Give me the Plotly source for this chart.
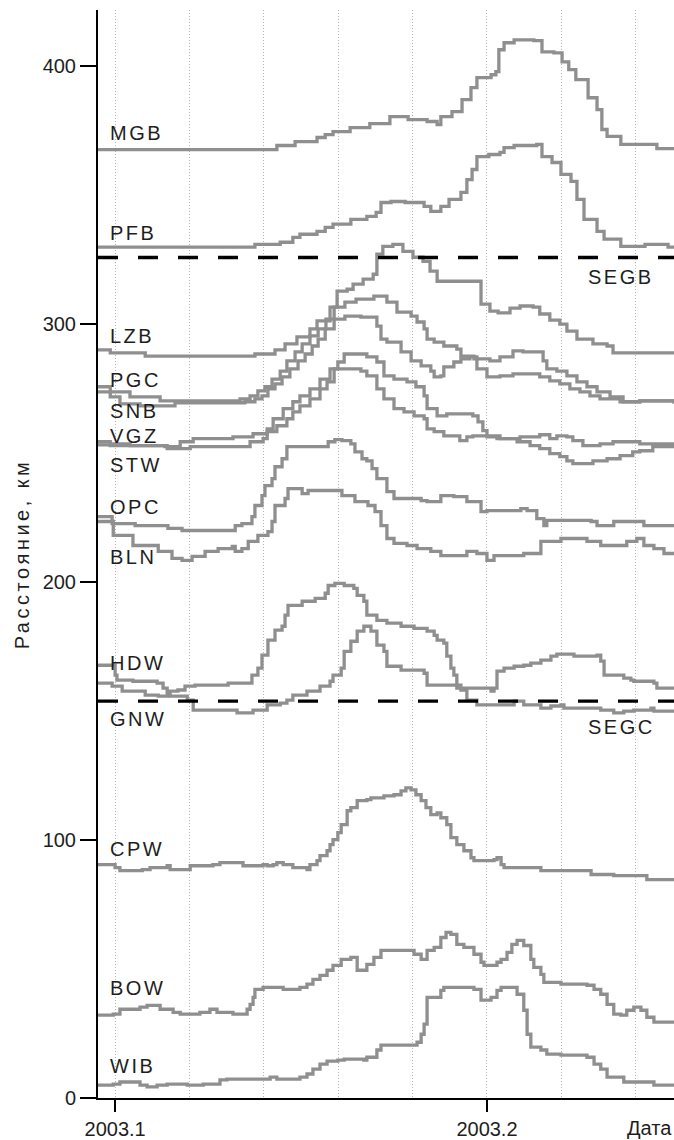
import plotly.graph_objects as go

# ---- station distance time series (decimal year, km) ----
mgb_t = [2003.0954, 2003.1435, 2003.1484, 2003.1543, 2003.1565, 2003.1586, 2003.1632, 2003.1685, 2003.1739, 2003.1788,
         2003.1839, 2003.1866, 2003.1876, 2003.1906, 2003.1933, 2003.1957, 2003.1973, 2003.2011, 2003.2024, 2003.2032,
         2003.2046, 2003.2073, 2003.2126, 2003.2148, 2003.2180, 2003.2202, 2003.2220, 2003.2239, 2003.2272, 2003.2296,
         2003.2309, 2003.2323, 2003.2360, 2003.2457, 2003.2503]
mgb_d = [367.5, 369.1, 370.6, 372.2, 373.3, 374.5, 376.0, 377.6, 380.3, 379.1,
         378.4, 377.2, 380.3, 382.2, 386.9, 391.5, 395.4, 396.5, 397.7, 406.2,
         408.9, 410.0, 409.7, 405.4, 405.0, 401.5, 398.5, 394.6, 387.6, 383.0,
         375.3, 372.6, 369.5, 367.9, 367.9]

pfb_t = [2003.0954, 2003.1376, 2003.1444, 2003.1478, 2003.1497, 2003.1543, 2003.1565, 2003.1586, 2003.1634, 2003.1677,
         2003.1702, 2003.1715, 2003.1742, 2003.1780, 2003.1831, 2003.1849, 2003.1876, 2003.1898, 2003.1930, 2003.1946,
         2003.1960, 2003.1973, 2003.2005, 2003.2035, 2003.2046, 2003.2073, 2003.2134, 2003.2148, 2003.2175, 2003.2199,
         2003.2226, 2003.2242, 2003.2261, 2003.2296, 2003.2315, 2003.2360, 2003.2425, 2003.2487, 2003.2503]
pfb_d = [329.7, 330.8, 331.6, 333.5, 334.7, 335.8, 337.4, 338.6, 340.5, 341.6,
         343.2, 347.0, 347.4, 347.0, 345.5, 343.6, 345.5, 348.2, 350.9, 355.9,
         359.8, 364.8, 365.6, 366.4, 368.3, 369.1, 369.5, 364.8, 362.5, 357.9,
         355.2, 348.2, 340.5, 335.8, 332.8, 330.0, 330.8, 329.7, 329.7]

lzb_t = [2003.0954, 2003.0987, 2003.1081, 2003.1376, 2003.1430, 2003.1457, 2003.1489, 2003.1524, 2003.1543, 2003.1578,
         2003.1597, 2003.1624, 2003.1640, 2003.1667, 2003.1694, 2003.1704, 2003.1720, 2003.1747, 2003.1774, 2003.1801,
         2003.1828, 2003.1847, 2003.1866, 2003.1984, 2003.2008, 2003.2030, 2003.2062, 2003.2089, 2003.2124, 2003.2142,
         2003.2169, 2003.2196, 2003.2215, 2003.2242, 2003.2285, 2003.2323, 2003.2339, 2003.2503]
lzb_d = [289.9, 288.7, 287.5, 288.3, 289.9, 292.2, 294.9, 298.0, 301.1, 306.5,
         312.7, 313.4, 315.4, 317.3, 319.2, 327.0, 330.0, 330.8, 328.1, 325.8,
         324.2, 320.4, 316.5, 307.6, 304.9, 304.2, 306.1, 306.9, 306.5, 303.8,
         301.4, 299.9, 297.2, 294.1, 292.2, 291.4, 288.7, 288.7]

pgc_t = [2003.0954, 2003.0987, 2003.1040, 2003.1121, 2003.1336, 2003.1363, 2003.1384, 2003.1403, 2003.1422, 2003.1444,
         2003.1462, 2003.1484, 2003.1503, 2003.1524, 2003.1546, 2003.1567, 2003.1589, 2003.1618, 2003.1648, 2003.1696,
         2003.1731, 2003.1758, 2003.1796, 2003.1812, 2003.1831, 2003.1839, 2003.1858, 2003.1884, 2003.1919, 2003.1930,
         2003.1965, 2003.1973, 2003.2000, 2003.2035, 2003.2070, 2003.2142, 2003.2169, 2003.2196, 2003.2223, 2003.2250,
         2003.2277, 2003.2304, 2003.2358, 2003.2411, 2003.2503]
pgc_d = [275.6, 273.6, 271.7, 270.1, 270.9, 272.1, 274.0, 275.6, 278.6, 281.7,
         285.6, 289.1, 292.2, 295.3, 298.0, 301.8, 306.5, 308.4, 309.6, 310.7,
         308.4, 304.5, 303.0, 300.7, 298.0, 294.1, 292.9, 291.4, 290.2, 287.5,
         286.4, 282.5, 279.4, 279.8, 280.6, 279.4, 277.9, 276.7, 274.8, 273.6,
         272.1, 270.9, 269.8, 270.1, 269.0]

snb_t = [2003.0954, 2003.0987, 2003.1013, 2003.1067, 2003.1161, 2003.1349, 2003.1376, 2003.1395, 2003.1411, 2003.1430,
         2003.1449, 2003.1470, 2003.1492, 2003.1511, 2003.1530, 2003.1546, 2003.1565, 2003.1589, 2003.1618, 2003.1661,
         2003.1704, 2003.1715, 2003.1731, 2003.1769, 2003.1796, 2003.1823, 2003.1849, 2003.1858, 2003.1876, 2003.1884,
         2003.1911, 2003.1930, 2003.1954, 2003.1973, 2003.2008, 2003.2035, 2003.2070, 2003.2097, 2003.2151, 2003.2161,
         2003.2188, 2003.2215, 2003.2242, 2003.2269, 2003.2296, 2003.2331, 2003.2366, 2003.2411, 2003.2503]
snb_d = [273.6, 271.7, 269.0, 268.2, 269.4, 269.8, 270.9, 272.1, 274.8, 276.7,
         279.4, 282.5, 285.6, 288.3, 291.4, 294.1, 298.0, 301.8, 303.0, 302.6,
         299.1, 294.1, 292.9, 289.1, 285.6, 283.7, 281.7, 279.4, 279.8, 283.3,
         285.2, 286.4, 287.2, 286.4, 285.6, 287.2, 289.5, 289.1, 285.6, 282.5,
         281.7, 279.8, 277.5, 275.6, 273.6, 271.7, 269.8, 270.1, 269.4]

vgz_t = [2003.0954, 2003.0987, 2003.1040, 2003.1134, 2003.1175, 2003.1210, 2003.1317, 2003.1371, 2003.1409, 2003.1425,
         2003.1452, 2003.1478, 2003.1497, 2003.1524, 2003.1551, 2003.1578, 2003.1599, 2003.1616, 2003.1677, 2003.1704,
         2003.1723, 2003.1750, 2003.1785, 2003.1809, 2003.1831, 2003.1839, 2003.1866, 2003.1892, 2003.1962, 2003.1976,
         2003.1989, 2003.2000, 2003.2027, 2003.2081, 2003.2116, 2003.2142, 2003.2169, 2003.2196, 2003.2215, 2003.2231,
         2003.2285, 2003.2323, 2003.2358, 2003.2392, 2003.2411, 2003.2446, 2003.2503]
vgz_d = [254.3, 253.5, 252.8, 252.4, 254.3, 255.5, 256.2, 257.4, 259.3, 263.2,
         267.1, 269.8, 272.1, 274.8, 278.6, 282.5, 285.2, 288.3, 287.2, 285.2,
         279.8, 278.6, 277.5, 275.6, 272.1, 267.1, 264.3, 265.1, 264.3, 262.0,
         258.6, 256.2, 255.5, 254.3, 252.8, 251.6, 249.7, 248.5, 246.9, 245.8,
         246.9, 247.7, 248.9, 250.4, 250.8, 252.4, 252.8]

stw_t = [2003.0954, 2003.0987, 2003.1140, 2003.1202, 2003.1363, 2003.1398, 2003.1409, 2003.1435, 2003.1462, 2003.1478,
         2003.1497, 2003.1524, 2003.1551, 2003.1570, 2003.1589, 2003.1661, 2003.1677, 2003.1704, 2003.1723, 2003.1750,
         2003.1777, 2003.1804, 2003.1831, 2003.1839, 2003.1858, 2003.1884, 2003.1927, 2003.1946, 2003.1962, 2003.2035,
         2003.2089, 2003.2142, 2003.2169, 2003.2188, 2003.2215, 2003.2231, 2003.2258, 2003.2304, 2003.2339, 2003.2411,
         2003.2503]
stw_d = [253.1, 252.8, 251.6, 252.4, 254.3, 255.5, 258.2, 260.5, 263.2, 265.9,
         268.2, 270.9, 274.8, 277.5, 282.5, 281.7, 279.8, 274.8, 270.9, 267.1,
         265.9, 264.3, 263.2, 259.3, 258.2, 256.6, 254.7, 256.2, 256.6, 255.5,
         256.2, 257.0, 255.5, 256.6, 256.2, 254.7, 252.8, 253.5, 254.3, 253.5,
         253.5]

opc_t = [2003.0954, 2003.0992, 2003.1054, 2003.1142, 2003.1180, 2003.1323, 2003.1341, 2003.1368, 2003.1376, 2003.1395,
         2003.1403, 2003.1422, 2003.1430, 2003.1449, 2003.1462, 2003.1573, 2003.1591, 2003.1610, 2003.1634, 2003.1645,
         2003.1664, 2003.1677, 2003.1691, 2003.1704, 2003.1731, 2003.1750, 2003.1823, 2003.1839, 2003.1876, 2003.1911,
         2003.1946, 2003.1984, 2003.2000, 2003.2091, 2003.2108, 2003.2134, 2003.2153, 2003.2161, 2003.2280, 2003.2296,
         2003.2341, 2003.2422, 2003.2503]
opc_d = [225.3, 222.6, 221.8, 220.7, 219.9, 221.8, 222.6, 225.3, 229.6, 233.4,
         237.3, 240.0, 244.6, 247.7, 252.4, 254.3, 255.1, 254.7, 253.5, 250.4,
         247.7, 246.9, 243.9, 240.0, 235.0, 232.3, 231.5, 231.1, 233.4, 233.0,
         231.1, 227.2, 227.6, 228.4, 227.6, 224.5, 221.8, 223.8, 223.4, 221.8,
         223.4, 221.8, 221.4]

bln_t = [2003.0954, 2003.0995, 2003.1048, 2003.1116, 2003.1153, 2003.1180, 2003.1207, 2003.1242, 2003.1277, 2003.1315,
         2003.1323, 2003.1341, 2003.1358, 2003.1384, 2003.1411, 2003.1422, 2003.1430, 2003.1457, 2003.1465, 2003.1503,
         2003.1519, 2003.1610, 2003.1645, 2003.1680, 2003.1699, 2003.1715, 2003.1731, 2003.1750, 2003.1785, 2003.1812,
         2003.1849, 2003.1876, 2003.1946, 2003.1973, 2003.2000, 2003.2019, 2003.2099, 2003.2145, 2003.2199, 2003.2269,
         2003.2306, 2003.2376, 2003.2403, 2003.2422, 2003.2449, 2003.2476, 2003.2503]
bln_d = [223.4, 218.0, 214.1, 211.8, 209.1, 208.3, 209.9, 211.8, 212.9, 213.7,
         211.8, 212.9, 215.7, 218.0, 219.5, 223.4, 229.6, 232.3, 236.1, 234.2,
         235.4, 233.4, 231.1, 229.6, 227.2, 221.8, 216.8, 214.9, 214.1, 212.9,
         211.8, 210.2, 211.8, 211.0, 208.3, 210.2, 211.0, 215.7, 216.8, 215.7,
         214.1, 215.7, 216.8, 214.1, 212.9, 211.0, 211.0]

hdw_t = [2003.0954, 2003.0992, 2003.1019, 2003.1081, 2003.1116, 2003.1142, 2003.1169, 2003.1188, 2003.1215, 2003.1304,
         2003.1368, 2003.1384, 2003.1395, 2003.1411, 2003.1430, 2003.1449, 2003.1457, 2003.1465, 2003.1503, 2003.1538,
         2003.1565, 2003.1573, 2003.1591, 2003.1616, 2003.1642, 2003.1651, 2003.1669, 2003.1677, 2003.1704, 2003.1731,
         2003.1769, 2003.1804, 2003.1839, 2003.1858, 2003.1866, 2003.1884, 2003.1892, 2003.1903, 2003.1911, 2003.1919,
         2003.2011, 2003.2019, 2003.2027, 2003.2046, 2003.2073, 2003.2099, 2003.2118, 2003.2145, 2003.2172, 2003.2188,
         2003.2234, 2003.2296, 2003.2306, 2003.2315, 2003.2368, 2003.2387, 2003.2395, 2003.2449, 2003.2457, 2003.2503]
hdw_d = [160.8, 159.6, 157.7, 156.1, 155.7, 157.7, 158.1, 159.6, 160.0, 160.8,
         163.9, 166.6, 171.6, 177.4, 181.3, 182.8, 187.1, 190.9, 192.5, 193.6,
         195.6, 198.6, 199.4, 198.6, 197.5, 194.8, 192.5, 187.1, 185.1, 184.0,
         182.8, 182.0, 180.9, 179.3, 177.4, 176.3, 171.2, 166.6, 163.9, 158.8,
         157.7, 158.8, 165.4, 166.6, 167.3, 167.7, 168.5, 169.7, 171.2, 172.0,
         171.2, 171.6, 169.3, 163.9, 162.7, 161.9, 161.5, 160.8, 158.8, 158.8]

gnw_t = [2003.0954, 2003.1000, 2003.1005, 2003.1048, 2003.1113, 2003.1129, 2003.1140, 2003.1148, 2003.1194, 2003.1210,
         2003.1328, 2003.1371, 2003.1409, 2003.1444, 2003.1462, 2003.1478, 2003.1516, 2003.1551, 2003.1578, 2003.1586,
         2003.1608, 2003.1616, 2003.1634, 2003.1651, 2003.1669, 2003.1688, 2003.1704, 2003.1723, 2003.1731, 2003.1769,
         2003.1831, 2003.1839, 2003.1930, 2003.1946, 2003.1973, 2003.2073, 2003.2099, 2003.2145, 2003.2172, 2003.2199,
         2003.2207, 2003.2306, 2003.2341, 2003.2368, 2003.2395, 2003.2441, 2003.2449, 2003.2503]
gnw_d = [167.7, 163.9, 161.9, 161.5, 160.8, 158.8, 156.9, 155.7, 154.2, 150.3,
         149.2, 150.3, 152.3, 153.0, 154.2, 156.1, 157.7, 159.6, 161.5, 163.9,
         166.6, 173.1, 177.0, 180.9, 182.8, 180.9, 175.5, 173.1, 167.3, 165.8,
         164.6, 160.0, 158.1, 154.2, 152.3, 153.8, 152.3, 151.1, 151.9, 152.3,
         151.1, 150.3, 149.2, 149.9, 150.3, 151.1, 149.9, 150.3]

cpw_t = [2003.0954, 2003.1000, 2003.1013, 2003.1073, 2003.1094, 2003.1140, 2003.1148, 2003.1202, 2003.1263, 2003.1282,
         2003.1344, 2003.1398, 2003.1409, 2003.1425, 2003.1435, 2003.1452, 2003.1478, 2003.1516, 2003.1524, 2003.1543,
         2003.1551, 2003.1570, 2003.1578, 2003.1586, 2003.1599, 2003.1608, 2003.1624, 2003.1634, 2003.1651, 2003.1677,
         2003.1688, 2003.1723, 2003.1750, 2003.1769, 2003.1782, 2003.1796, 2003.1809, 2003.1823, 2003.1836, 2003.1849,
         2003.1866, 2003.1876, 2003.1892, 2003.1903, 2003.1919, 2003.1938, 2003.1957, 2003.1965, 2003.2019, 2003.2027,
         2003.2038, 2003.2046, 2003.2145, 2003.2280, 2003.2341, 2003.2430, 2003.2503]
cpw_d = [90.4, 89.3, 88.1, 88.5, 89.3, 90.0, 88.5, 90.0, 90.4, 91.2,
         90.0, 90.4, 90.0, 90.4, 91.2, 90.4, 89.3, 88.5, 90.4, 92.0,
         93.9, 95.8, 98.2, 100.1, 102.8, 105.9, 111.3, 112.5, 115.2, 115.6,
         116.3, 117.1, 117.5, 119.0, 120.2, 119.4, 117.5, 115.2, 112.5, 109.8,
         110.5, 108.6, 105.9, 100.9, 98.2, 95.8, 93.1, 92.0, 92.4, 93.1,
         90.4, 89.3, 88.1, 86.6, 86.2, 84.6, 84.6]

bow_t = [2003.0954, 2003.0995, 2003.1013, 2003.1067, 2003.1086, 2003.1121, 2003.1156, 2003.1175, 2003.1228, 2003.1255,
         2003.1274, 2003.1317, 2003.1355, 2003.1363, 2003.1371, 2003.1376, 2003.1398, 2003.1452, 2003.1497, 2003.1516,
         2003.1532, 2003.1551, 2003.1570, 2003.1586, 2003.1608, 2003.1634, 2003.1651, 2003.1677, 2003.1696, 2003.1715,
         2003.1804, 2003.1823, 2003.1839, 2003.1858, 2003.1876, 2003.1890, 2003.1903, 2003.1919, 2003.1938, 2003.1965,
         2003.1984, 2003.1992, 2003.2027, 2003.2038, 2003.2054, 2003.2067, 2003.2081, 2003.2099, 2003.2118, 2003.2126,
         2003.2145, 2003.2153, 2003.2199, 2003.2269, 2003.2288, 2003.2306, 2003.2323, 2003.2341, 2003.2360, 2003.2376,
         2003.2395, 2003.2414, 2003.2430, 2003.2449, 2003.2503]
bow_d = [32.1, 32.5, 34.4, 35.2, 35.9, 34.4, 33.2, 32.5, 33.2, 34.4,
         33.2, 32.5, 34.4, 36.3, 39.0, 42.1, 42.9, 42.1, 42.9, 44.1,
         46.0, 47.5, 49.5, 51.4, 53.7, 54.5, 49.5, 51.8, 54.5, 57.2,
         55.7, 53.7, 57.2, 58.4, 62.2, 64.2, 63.4, 59.5, 58.4, 55.7,
         52.6, 51.4, 52.6, 53.7, 56.4, 59.5, 61.1, 59.1, 53.7, 50.6,
         47.9, 44.8, 44.1, 43.7, 42.1, 40.2, 36.3, 32.5, 32.1, 34.0,
         35.2, 34.0, 31.3, 29.4, 29.4]

wib_t = [2003.0954, 2003.0995, 2003.1013, 2003.1067, 2003.1086, 2003.1113, 2003.1140, 2003.1194, 2003.1237, 2003.1282,
         2003.1301, 2003.1417, 2003.1435, 2003.1497, 2003.1516, 2003.1532, 2003.1551, 2003.1570, 2003.1599, 2003.1616,
         2003.1669, 2003.1677, 2003.1704, 2003.1715, 2003.1812, 2003.1823, 2003.1831, 2003.1839, 2003.1876, 2003.1884,
         2003.1965, 2003.1984, 2003.2011, 2003.2027, 2003.2038, 2003.2081, 2003.2099, 2003.2108, 2003.2118, 2003.2145,
         2003.2161, 2003.2199, 2003.2269, 2003.2288, 2003.2306, 2003.2323, 2003.2368, 2003.2449, 2003.2503]
wib_d = [5.0, 5.4, 6.2, 5.0, 4.3, 5.0, 5.4, 5.0, 5.4, 7.0,
         7.3, 8.1, 7.3, 8.1, 9.3, 11.2, 13.1, 14.3, 14.7, 15.1,
         14.7, 15.8, 18.6, 20.5, 21.6, 24.7, 28.6, 39.0, 41.7, 42.9,
         42.1, 37.9, 39.0, 41.7, 42.9, 40.2, 34.0, 24.7, 19.7, 18.6,
         17.0, 16.6, 15.8, 13.1, 11.2, 8.1, 6.2, 5.0, 5.0]

# boundary levels (km)
boundary_names = ["SEGB", "SEGC"]
boundary_km = [325.7, 153.8]

series = [
    ("MGB", mgb_t, mgb_d), ("PFB", pfb_t, pfb_d), ("LZB", lzb_t, lzb_d),
    ("PGC", pgc_t, pgc_d), ("SNB", snb_t, snb_d), ("VGZ", vgz_t, vgz_d),
    ("STW", stw_t, stw_d), ("OPC", opc_t, opc_d), ("BLN", bln_t, bln_d),
    ("HDW", hdw_t, hdw_d), ("GNW", gnw_t, gnw_d), ("CPW", cpw_t, cpw_d),
    ("BOW", bow_t, bow_d), ("WIB", wib_t, wib_d),
]

# label placement (km) for station names, drawn near the left edge
label_km = {"MGB": 374.1, "PFB": 335.1, "LZB": 295.3, "PGC": 278.1, "SNB": 266.3,
            "VGZ": 256.6, "STW": 245.4, "OPC": 229.2, "BLN": 209.5, "HDW": 168.5,
            "GNW": 146.9, "CPW": 96.6, "BOW": 42.5, "WIB": 12.4}
boundary_label_km = {"SEGB": 318.3, "SEGC": 143.8}

X0, X1 = 2003.0954, 2003.2503
FONT = "Liberation Sans, Arial, Helvetica, sans-serif"
TXT = "#1e1e1e"
LINE_GREY = "#8f8f8f"


def spaced(s, px=2.5):
    return '<span style="letter-spacing:%spx">%s</span>' % (px, s)


fig = go.Figure()
for name, t, d in series:
    fig.add_trace(go.Scatter(x=t, y=d, mode="lines", name=name,
                             line=dict(color=LINE_GREY, width=3.3, shape="hv")))

for name, lvl in zip(boundary_names, boundary_km):
    fig.add_trace(go.Scatter(x=[X0, X1], y=[lvl, lvl], mode="lines", name=name,
                             line=dict(color="black", width=3.3, dash="20px,20px")))

annotations = []
for name, _, _ in series:
    annotations.append(dict(x=2003.0981, y=label_km[name], xref="x", yref="y",
                            text=spaced(name), showarrow=False, xanchor="left",
                            yanchor="middle", font=dict(size=20, color=TXT, family=FONT)))
for name in boundary_names:
    annotations.append(dict(x=2003.2266, y=boundary_label_km[name], xref="x", yref="y",
                            text=spaced(name), showarrow=False, xanchor="left",
                            yanchor="middle", font=dict(size=20, color=TXT, family=FONT)))
annotations.append(dict(x=X1, y=0, xref="x", yref="paper", text="Дата", showarrow=False,
                        xanchor="right", yanchor="top", yshift=-17,
                        font=dict(size=20, color=TXT, family=FONT)))

fig.update_layout(
    width=674, height=1140,
    margin=dict(l=98, r=0, t=10, b=39),
    paper_bgcolor="white", plot_bgcolor="white",
    showlegend=False,
    font=dict(family=FONT, size=20, color=TXT),
    annotations=annotations,
    xaxis=dict(
        range=[X0, X1], tickvals=[2003.1, 2003.2], ticktext=["2003.1", "2003.2"],
        ticks="outside", ticklen=12, tickwidth=2, tickcolor="black",
        showline=True, linecolor="black", linewidth=2,
        showgrid=True, gridcolor="#b4b4b4", gridwidth=1, griddash="1px,2px",
        minor=dict(tickvals=[2003.12, 2003.14, 2003.16, 2003.18, 2003.22, 2003.24],
                   showgrid=True, gridcolor="#b4b4b4", gridwidth=1, griddash="1px,2px",
                   ticks=""),
        zeroline=False, tickfont=dict(size=20, color=TXT, family=FONT),
    ),
    yaxis=dict(
        range=[0, 421.6], tickvals=[0, 100, 200, 300, 400],
        ticks="outside", ticklen=16, tickwidth=2, tickcolor="black",
        showline=True, linecolor="black", linewidth=2,
        showgrid=False, zeroline=False,
        tickfont=dict(size=20, color=TXT, family=FONT),
        title=dict(text=spaced("Расстояние, км", 3.5), standoff=8,
                   font=dict(size=20, color=TXT, family=FONT)),
    ),
)

fig.write_html("out.html")
